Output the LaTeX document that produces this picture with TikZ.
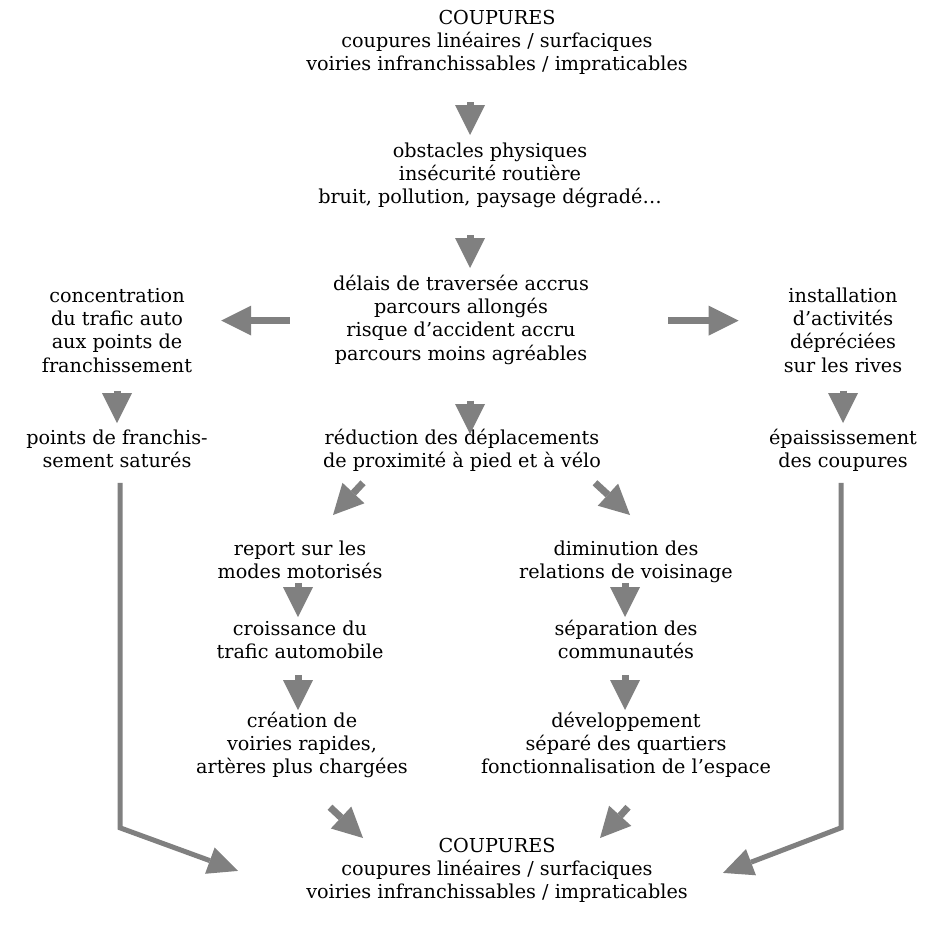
\documentclass[tikz,border=0pt]{standalone}
\usepackage{fontspec}
\setmainfont{DejaVu Serif}
\usetikzlibrary{arrows.meta}
\definecolor{arrgray}{HTML}{808080}
\newcommand{\ls}{\strut}
\begin{document}
\begin{tikzpicture}[x=1pt,y=-1pt,
  txt/.style={anchor=north, inner sep=0pt, align=center, font=\fontsize{19.2}{23.4}\selectfont},
  arr/.style={draw=arrgray, line width=7pt, -{Triangle[width=30pt,length=30pt,line width=0pt]}},
  link/.style={draw=arrgray, line width=5pt, line join=miter, -{Triangle[width=28pt,length=30pt,line width=0pt]}}]
\useasboundingbox[fill=white] (0,0) rectangle (939,926);

% text nodes
\node[txt] (c1) at (497,7.6) {\ls COUPURES\\coupures linéaires / surfaciques\\voiries infranchissables / impraticables\ls};
\node[txt] (obs) at (490,140.6) {\ls obstacles physiques\\insécurité routière\\bruit, pollution, paysage dégradé…\ls};
\node[txt] (del) at (461,273.6) {\ls délais de traversée accrus\\parcours allongés\\risque d’accident accru\\parcours moins agréables\ls};
\node[txt] (conc) at (117,285.6) {\ls concentration\\du trafic auto\\aux points de\\franchissement\ls};
\node[txt] (inst) at (843,285.6) {\ls installation\\d’activités\\dépréciées\\sur les rives\ls};
\node[txt] (sat) at (117,427.6) {\ls points de franchis-\\sement saturés\ls};
\node[txt] (epa) at (843,427.6) {\ls épaississement\\des coupures\ls};
\node[txt] (red) at (462,427.6) {\ls réduction des déplacements\\de proximité à pied et à vélo\ls};
\node[txt] (rep) at (300,538.6) {\ls report sur les\\modes motorisés\ls};
\node[txt] (dim) at (626,538.6) {\ls diminution des\\relations de voisinage\ls};
\node[txt] (cro) at (300,618.6) {\ls croissance du\\trafic automobile\ls};
\node[txt] (sep) at (626,618.6) {\ls séparation des\\communautés\ls};
\node[txt] (cre) at (302,710.6) {\ls création de\\voiries rapides,\\artères plus chargées\ls};
\node[txt] (dev) at (626,710.6) {\ls développement\\séparé des quartiers\\fonctionnalisation de l’espace\ls};
\node[txt] (c2) at (497,835.6) {\ls COUPURES\\coupures linéaires / surfaciques\\voiries infranchissables / impraticables\ls};

% short arrows
\draw[arr] ([xshift=-27pt,yshift=-24pt]c1.south) -- ([xshift=-20pt,yshift=5.6pt]obs.north);
\draw[arr] ([xshift=-20pt,yshift=-24pt]obs.south) -- ([xshift=9pt,yshift=5.6pt]del.north);
\draw[arr] ([xshift=9pt,yshift=-33pt]del.south) -- ([xshift=8pt,yshift=-6.4pt]red.north);
\draw[arr] ([xshift=-43pt]del.west) -- ([xshift=29pt]conc.east |- del.west);
\draw[arr] ([xshift=79pt]del.east) -- ([xshift=-45pt]inst.west |- del.east);
\draw[arr] ([yshift=-11pt]conc.south) -- ([yshift=4.6pt]sat.north);
\draw[arr] ([yshift=-11pt]inst.south) -- ([yshift=4.6pt]epa.north);
\draw[arr] ([xshift=-99pt,yshift=-8pt]red.south) -- ([xshift=33pt,yshift=23.6pt]rep.north);
\draw[arr] ([xshift=133pt,yshift=-8pt]red.south) -- ([xshift=4pt,yshift=23.6pt]dim.north);
\draw[arr] ([xshift=-2pt,yshift=3pt]rep.south) -- ([xshift=-2pt,yshift=1.6pt]cro.north);
\draw[arr] ([xshift=-1pt,yshift=3pt]dim.south) -- ([xshift=-1pt,yshift=1.6pt]sep.north);
\draw[arr] ([xshift=-2pt,yshift=-9pt]cro.south) -- ([xshift=-4pt,yshift=0.6pt]cre.north);
\draw[arr] ([xshift=-1pt,yshift=-9pt]sep.south) -- ([xshift=-1pt,yshift=0.6pt]dev.north);
\draw[arr] ([xshift=28pt,yshift=-26pt]cre.south) -- ([xshift=-134pt,yshift=-2.4pt]c2.north);
\draw[arr] ([xshift=2pt,yshift=-26pt]dev.south) -- ([xshift=103pt,yshift=-2.4pt]c2.north);

% long connectors
\draw[link] ([xshift=3pt,yshift=-8pt]sat.south) -- ++(0,345) -- ([xshift=-68pt]c2.west);
\draw[link] ([xshift=-2pt,yshift=-8pt]epa.south) -- ++(0,345) -- ([xshift=35pt,yshift=-2pt]c2.east);
\end{tikzpicture}
\end{document}
